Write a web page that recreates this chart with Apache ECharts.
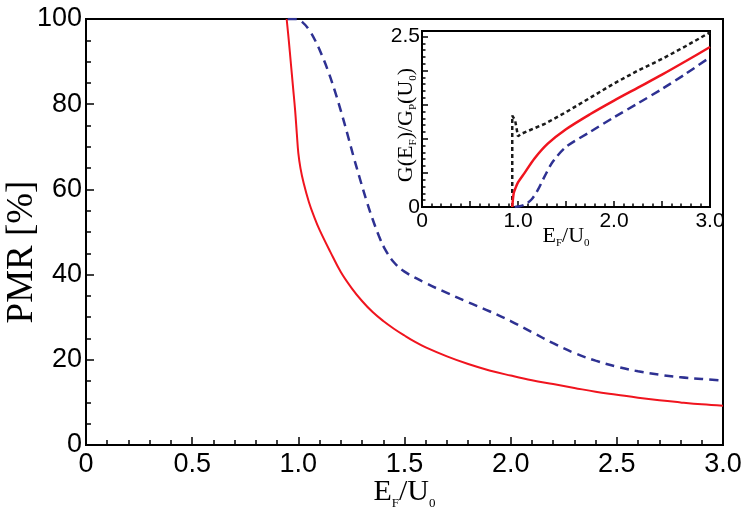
<!DOCTYPE html>
<html>
<head>
<meta charset="utf-8">
<script src="https://cdn.jsdelivr.net/npm/echarts@6/dist/echarts.min.js"></script>
<style>html,body{margin:0;padding:0;background:#fff;}#c{width:748px;height:514px;}</style>
</head>
<body>
<div id="c"></div>
<script>
// Main panel: PMR [%] vs E_F/U_0
const mainRed = [[0.945,100],[0.955,95],[0.965,89.5],[0.975,84],[0.985,78.5],[0.993,73],[1.0,68.5],[1.01,65],[1.025,61.5],[1.05,57],[1.075,53.5],[1.1,50.5],[1.15,45.4],[1.2,40.6],[1.25,36.9],[1.3,33.8],[1.35,31.2],[1.4,29.1],[1.45,27.3],[1.5,25.7],[1.55,24.2],[1.6,22.9],[1.7,20.8],[1.8,19.0],[1.9,17.5],[2.0,16.3],[2.1,15.2],[2.2,14.3],[2.3,13.4],[2.4,12.5],[2.5,11.8],[2.6,11.1],[2.7,10.5],[2.8,10.0],[2.9,9.55],[3.0,9.2]];
const mainBlue = [[0.95,100],[0.99,100],[1.02,99.2],[1.05,97.5],[1.08,94.9],[1.11,91.6],[1.14,87.8],[1.17,83.4],[1.2,78.5],[1.23,73.2],[1.26,67.7],[1.29,62.5],[1.32,57.5],[1.35,53],[1.38,49],[1.41,45.8],[1.45,42.9],[1.5,40.7],[1.6,38],[1.7,35.7],[1.8,33.5],[1.9,31.4],[2.0,29.1],[2.1,26.5],[2.2,23.9],[2.3,21.6],[2.4,19.8],[2.5,18.4],[2.6,17.3],[2.7,16.5],[2.8,15.9],[2.9,15.5],[3.0,15.1]];
// Inset: G(E_F)/G_P(U_0) vs E_F/U_0
const insetBlack = [[0.94,0],[0.94,1.34],[0.97,1.27],[1.0,1.035],[1.03,1.07],[1.28,1.22],[1.5,1.39],[1.75,1.6],[2.0,1.81],[2.25,2.0],[2.5,2.17],[2.75,2.36],[3.0,2.56]];
const insetRed = [[0.94,0],[0.955,0.2],[0.972,0.27],[1.0,0.36],[1.069,0.5],[1.172,0.711],[1.31,0.928],[1.5,1.14],[1.75,1.36],[2.0,1.56],[2.25,1.75],[2.5,1.94],[2.75,2.14],[3.0,2.345]];
const insetBlue = [[0.966,0],[1.02,0.01],[1.069,0.034],[1.138,0.106],[1.207,0.25],[1.276,0.445],[1.362,0.662],[1.5,0.88],[1.75,1.1],[2.0,1.315],[2.25,1.52],[2.5,1.73],[2.75,1.955],[3.0,2.195]];
const mainXTicks = {min:0, max:3, interval:0.5};
const mainYTicks = {min:0, max:100, interval:20};
const insetXTicks = {min:0, max:3, interval:0.5};
const insetYTicks = {min:0, max:2.58, interval:0.5, minor:0.1};
const insetYLabels = [0, 2.5];

const RED = '#f0141e', BLUE = '#2e3192', BLACK = '#1a1a1a';
const SANS = 'Liberation Sans, Arial, sans-serif';
const SERIF = 'Liberation Serif, Times New Roman, serif';

const chart = echarts.init(document.getElementById('c'));
const axisLine = {show:true, lineStyle:{color:'#000', width:2}};
chart.setOption({
  animation:false,
  backgroundColor:'#fff',
  grid:[
    {left:86, top:19, width:637, height:426, outerBoundsMode:'none', containLabel:false, show:true, borderColor:'#000', borderWidth:2, backgroundColor:'transparent'},
    {left:422, top:31, width:288, height:176, outerBoundsMode:'none', containLabel:false, show:true, borderColor:'#000', borderWidth:2, backgroundColor:'transparent'}
  ],
  xAxis:[
    {type:'value', gridIndex:0, min:mainXTicks.min, max:mainXTicks.max, interval:mainXTicks.interval,
     axisLine:axisLine, axisTick:{inside:true, length:8, lineStyle:{color:'#000', width:1.5}},
     minorTick:{show:true, splitNumber:5, length:5, lineStyle:{color:'#000', width:1.5}},
     splitLine:{show:false}, minorSplitLine:{show:false},
     axisLabel:{margin:6, color:'#000', fontSize:27, fontFamily:SANS, formatter:v=> v===0?'0':v.toFixed(1)},
     name:'E{s|F}/U{s|0}', nameLocation:'middle', nameGap:32, nameMoveOverlap:false,
     nameTextStyle:{color:'#000', fontSize:30, fontFamily:SERIF, rich:{s:{fontSize:13, fontFamily:SERIF, color:'#000', verticalAlign:'bottom', padding:[0,0,-3,0]}}}},
    {type:'value', gridIndex:1, min:insetXTicks.min, max:insetXTicks.max, interval:insetXTicks.interval,
     axisLine:axisLine, axisTick:{inside:true, length:6, lineStyle:{color:'#000', width:1.5}},
     minorTick:{show:true, splitNumber:5, length:3.5, lineStyle:{color:'#000', width:1.5}},
     splitLine:{show:false}, minorSplitLine:{show:false},
     axisLabel:{margin:4, color:'#000', fontSize:21, fontFamily:SANS, formatter:v=> v===0?'0':(Math.abs(v-Math.round(v))<1e-9? v.toFixed(1):'')},
     name:'E{s|F}/U{s|0}', nameLocation:'middle', nameGap:18, nameMoveOverlap:false,
     nameTextStyle:{color:'#000', fontSize:22, fontFamily:SERIF, rich:{s:{fontSize:11, fontFamily:SERIF, color:'#000', verticalAlign:'bottom', padding:[0,0,-2,0]}}}}
  ],
  yAxis:[
    {type:'value', gridIndex:0, min:mainYTicks.min, max:mainYTicks.max, interval:mainYTicks.interval,
     axisLine:axisLine, axisTick:{inside:true, length:8, lineStyle:{color:'#000', width:1.5}},
     minorTick:{show:true, splitNumber:4, length:5, lineStyle:{color:'#000', width:1.5}},
     splitLine:{show:false}, minorSplitLine:{show:false},
     axisLabel:{margin:4, color:'#000', fontSize:27, fontFamily:SANS},
     name:'PMR [%]', nameLocation:'middle', nameGap:45, nameMoveOverlap:false,
     nameTextStyle:{color:'#000', fontSize:37, fontFamily:SERIF, padding:[0,40,0,0]}},
    {type:'value', gridIndex:1, position:'left', offset:0, min:insetYTicks.min, max:insetYTicks.max, interval:insetYTicks.interval,
     axisLine:axisLine, axisTick:{inside:true, length:6, lineStyle:{color:'#000', width:1.5}},
     splitLine:{show:false},
     axisLabel:{margin:2, color:'#000', fontSize:21, fontFamily:SANS, formatter:v=>{ for (const t of insetYLabels) if (Math.abs(v-t)<1e-9) return String(t); return ''; }},
     name:'G(E{s|F})/G{s|P}(U{s|0})', nameLocation:'middle', nameGap:5, nameMoveOverlap:false,
     nameTextStyle:{color:'#000', fontSize:22, fontFamily:SERIF, padding:[0,12,0,0], rich:{s:{fontSize:11, fontFamily:SERIF, color:'#000', verticalAlign:'bottom', padding:[0,0,-2,0]}}}},
    {type:'value', gridIndex:1, position:'left', offset:0, min:insetYTicks.min, max:insetYTicks.max, interval:insetYTicks.minor,
     axisLine:{show:false}, axisTick:{inside:true, length:3.5, lineStyle:{color:'#000', width:1.5}},
     splitLine:{show:false}, axisLabel:{show:false}}
  ],
  series:[
    {type:'line', xAxisIndex:0, yAxisIndex:0, data:mainRed, showSymbol:false, symbol:'none', smooth:0.4, lineStyle:{color:RED, width:2}},
    {type:'line', xAxisIndex:0, yAxisIndex:0, data:mainBlue, showSymbol:false, symbol:'none', smooth:0.4, lineStyle:{color:BLUE, width:2.5, type:[9,6]}},
    {type:'line', xAxisIndex:1, yAxisIndex:1, data:insetBlack, showSymbol:false, symbol:'none', smooth:false, lineStyle:{color:BLACK, width:2.5, type:[4,3]}},
    {type:'line', xAxisIndex:1, yAxisIndex:1, data:insetRed, showSymbol:false, symbol:'none', smooth:0.3, lineStyle:{color:RED, width:2.5}},
    {type:'line', xAxisIndex:1, yAxisIndex:1, data:insetBlue, showSymbol:false, symbol:'none', smooth:0.3, lineStyle:{color:BLUE, width:2.5, type:[9,5]}}
  ]
});
</script>
</body>
</html>
